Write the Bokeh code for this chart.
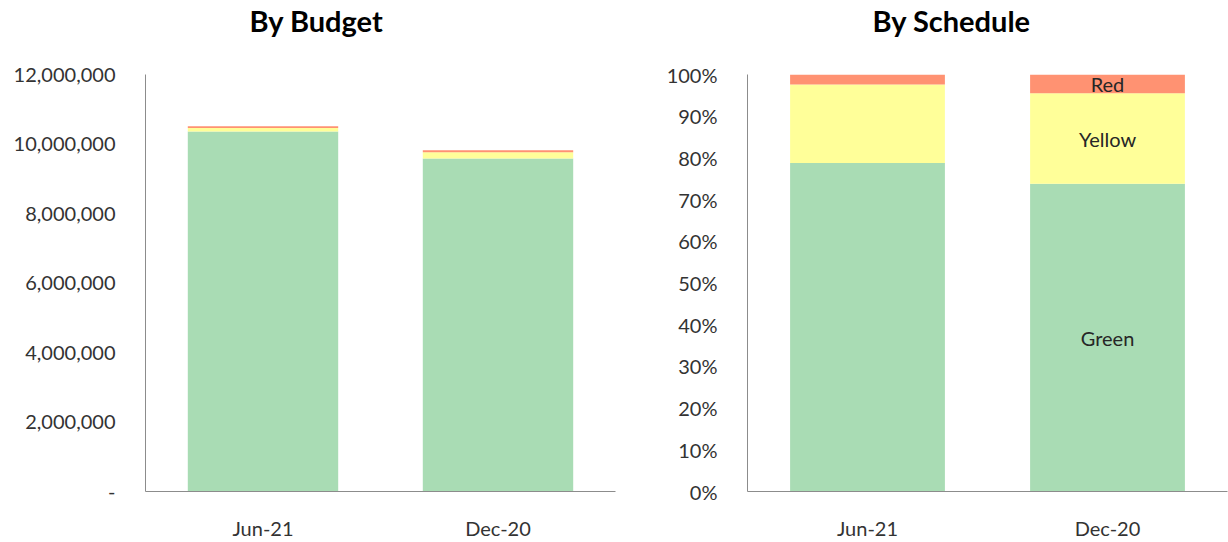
from bokeh.plotting import figure
from bokeh.models import FactorRange, Range1d, FixedTicker, NumeralTickFormatter, ColumnDataSource, Title
from bokeh.layouts import row
from bokeh.embed import file_html
from bokeh.resources import INLINE
from bokeh.core.properties import value

# ---- data ----
categories = ["Jun-21", "Dec-20"]
statuses = ["Green", "Yellow", "Red"]
colors = ["#A9DCB4", "#FFFF99", "#FF9272"]

budget_green = [10360000, 9580000]
budget_yellow = [100000, 180000]
budget_red = [50000, 60000]
budget_ticks = [0, 2000000, 4000000, 6000000, 8000000, 10000000, 12000000]

schedule_green = [0.788, 0.738]
schedule_yellow = [0.188, 0.217]
schedule_red = [0.024, 0.045]
schedule_ticks = [0.0, 0.1, 0.2, 0.3, 0.4, 0.5, 0.6, 0.7, 0.8, 0.9, 1.0]

label_category = "Dec-20"

FONT = "Lato"
TXT = "#333333"
AXC = "#8C8C8C"


def style(p, ticks, fmt, standoff):
    p.outline_line_color = None
    p.xgrid.grid_line_color = None
    p.ygrid.grid_line_color = None
    p.yaxis.ticker = FixedTicker(ticks=ticks)
    p.yaxis.formatter = fmt
    for ax in (p.xaxis[0], p.yaxis[0]):
        ax.axis_line_color = AXC
        ax.axis_line_width = 1
        ax.major_tick_line_color = None
        ax.minor_tick_line_color = None
        ax.major_label_text_font = FONT
        ax.major_label_text_font_size = "20px"
        ax.major_label_text_color = TXT
    p.yaxis.major_label_standoff = standoff
    p.xaxis.major_label_standoff = 18


def add_title(p, text, offset):
    # spacer panel between frame and title, to lift the title
    spacer = Title(text=" ", text_font_size="1px", standoff=34)
    p.add_layout(spacer, "above")
    t = Title(text=text, align="left", offset=offset, standoff=0,
              text_font=FONT, text_font_size="29px", text_font_style="bold",
              text_color="#000000")
    p.add_layout(t, "above")


# ---- By Budget ----
src1 = ColumnDataSource(dict(cat=categories, Green=budget_green, Yellow=budget_yellow, Red=budget_red))
p1 = figure(width=620, height=542, x_range=FactorRange(*categories, range_padding=0),
            y_range=Range1d(0, budget_ticks[-1]), output_backend="svg", toolbar_location=None,
            min_border_left=145, min_border_right=5, min_border_top=74, min_border_bottom=48)
p1.vbar_stack(statuses, x="cat", width=0.64, color=colors, line_color=None, source=src1)
fmt1 = NumeralTickFormatter(format="0,0")
style(p1, budget_ticks, fmt1, 24)
p1.yaxis.major_label_overrides = {0: "-"}
add_title(p1, "By Budget", 104)

# ---- By Schedule ----
src2 = ColumnDataSource(dict(cat=categories, Green=schedule_green, Yellow=schedule_yellow, Red=schedule_red))
p2 = figure(width=608, height=542, x_range=FactorRange(*categories, range_padding=0),
            y_range=Range1d(0, 1), output_backend="svg", toolbar_location=None,
            min_border_left=127, min_border_right=1, min_border_top=74, min_border_bottom=48)
p2.vbar_stack(statuses, x="cat", width=0.645, color=colors, line_color=None, source=src2)
style(p2, schedule_ticks, NumeralTickFormatter(format="0%"), 24)
add_title(p2, "By Schedule", 125)

i = categories.index(label_category)
g, y, r = schedule_green[i], schedule_yellow[i], schedule_red[i]
lab = ColumnDataSource(dict(x=[label_category] * 3, y=[g / 2, g + y / 2, g + y + r / 2], t=statuses))
p2.text(x="x", y="y", text="t", source=lab, text_align="center", text_baseline="middle",
        text_font=value(FONT), text_font_size="20px", text_color="#262626")

layout = row(p1, p2)
open("out.html", "w").write(file_html(layout, INLINE))
